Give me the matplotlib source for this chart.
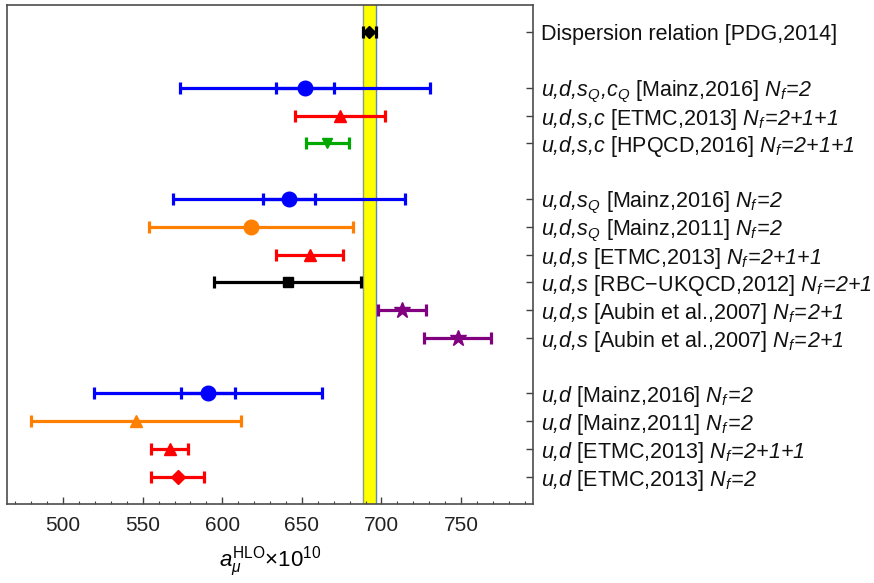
import matplotlib
matplotlib.use("Agg")
import matplotlib.pyplot as plt
from matplotlib.ticker import MultipleLocator

plt.rcParams['font.family'] = ['Liberation Sans', 'DejaVu Sans']
plt.rcParams['mathtext.fontset'] = 'custom'
plt.rcParams['mathtext.rm'] = 'Liberation Sans'
plt.rcParams['mathtext.it'] = 'Liberation Sans:italic'
plt.rcParams['mathtext.sf'] = 'Liberation Sans:italic'

# Results, top to bottom
labels = [
    r'Dispersion relation [PDG,2014]',
    r'$\mathsf{u{,}d{,}s_Q{,}c_Q}$ [Mainz,2016] $\mathsf{N_f\!=\!2}$',
    r'$\mathsf{u{,}d{,}s{,}c}$ [ETMC,2013] $\mathsf{N_f\!=\!2{+}1{+}1}$',
    r'$\mathsf{u{,}d{,}s{,}c}$ [HPQCD,2016] $\mathsf{N_f\!=\!2{+}1{+}1}$',
    r'$\mathsf{u{,}d{,}s_Q}$ [Mainz,2016] $\mathsf{N_f\!=\!2}$',
    r'$\mathsf{u{,}d{,}s_Q}$ [Mainz,2011] $\mathsf{N_f\!=\!2}$',
    r'$\mathsf{u{,}d{,}s}$ [ETMC,2013] $\mathsf{N_f\!=\!2{+}1{+}1}$',
    r'$\mathsf{u{,}d{,}s}$ [RBC$-$UKQCD,2012] $\mathsf{N_f\!=\!2{+}1}$',
    r'$\mathsf{u{,}d{,}s}$ [Aubin et al.,2007] $\mathsf{N_f\!=\!2{+}1}$',
    r'$\mathsf{u{,}d{,}s}$ [Aubin et al.,2007] $\mathsf{N_f\!=\!2{+}1}$',
    r'$\mathsf{u{,}d}$ [Mainz,2016] $\mathsf{N_f\!=\!2}$',
    r'$\mathsf{u{,}d}$ [Mainz,2011] $\mathsf{N_f\!=\!2}$',
    r'$\mathsf{u{,}d}$ [ETMC,2013] $\mathsf{N_f\!=\!2{+}1{+}1}$',
    r'$\mathsf{u{,}d}$ [ETMC,2013] $\mathsf{N_f\!=\!2}$',
]
rows = [0, 2, 3, 4, 6, 7, 8, 9, 10, 11, 13, 14, 15, 16]
values = [692.3, 652, 674, 666, 642, 618, 655, 641, 713, 748, 591, 546, 567, 572]
total_err = [4.2, 78.5, 28, 13.5, 73, 64, 21, 46, 15, 21, 71.5, 66, 11.5, 16.5]
stat_err = [0, 18, 0, 0, 16.5, 0, 0, 0, 0, 0, 17, 0, 0, 0]
colors = ['black', '#0000ff', '#ff0000', '#00a800', '#0000ff', '#ff8000', '#ff0000',
          'black', '#800080', '#800080', '#0000ff', '#ff8000', '#ff0000', '#ff0000']
markers = ['D', 'o', '^', 'v', 'o', 'o', '^', 's', '*', '*', 'o', '^', '^', 'D']
msizes = [6, 10.5, 9, 7, 10.5, 10.5, 9, 7, 12, 12, 10.5, 9, 9, 7]

band_lo, band_hi = 688.1, 696.5

fig = plt.figure(figsize=(8.74, 5.83), dpi=100)
ax = fig.add_axes([0.0084, 0.1348, 0.6011, 0.8573])

# PDG band
ax.axvspan(band_lo, band_hi, color='#ffff00', zorder=1)
ax.axvline(band_lo, color='#8fa08a', lw=1, zorder=1)
ax.axvline(band_hi, color='#5f86c8', lw=1, zorder=1)

for i in range(len(values)):
    ax.errorbar(values[i], rows[i], xerr=total_err[i], fmt=markers[i], color=colors[i],
                ms=msizes[i], elinewidth=2.3, capsize=4, capthick=2.3, zorder=3)
    if stat_err[i] > 0:
        ax.errorbar(values[i], rows[i], xerr=stat_err[i], fmt='none', color=colors[i],
                    elinewidth=2.3, capsize=4, capthick=2.3, zorder=3)

ax.set_xlim(465, 795)
ax.set_ylim(17, -1)
ax.xaxis.set_major_locator(MultipleLocator(50))
ax.xaxis.set_minor_locator(MultipleLocator(10))
ax.tick_params(axis='x', which='major', direction='in', length=5, width=1,
               labelsize=15, pad=8, color='0.25', labelcolor='#222222')
ax.tick_params(axis='x', which='minor', direction='in', length=2.5, width=0.8, color='0.25')

ax.set_yticks(rows)
ax.set_yticklabels(labels)
ax.yaxis.tick_right()
ax.tick_params(axis='y', which='both', direction='in', length=5, width=1,
               labelsize=15.5, pad=6, left=False, labelleft=False,
               right=True, labelright=True, color='0.25', labelcolor='#111111')

for s in ax.spines.values():
    s.set_color('0.3')
    s.set_linewidth(1.2)

ax.set_xlabel(r'$a_\mu^{\mathrm{HLO}}$×10$^{10}$', fontsize=16, labelpad=7)

fig.savefig('out.png', dpi=100)
